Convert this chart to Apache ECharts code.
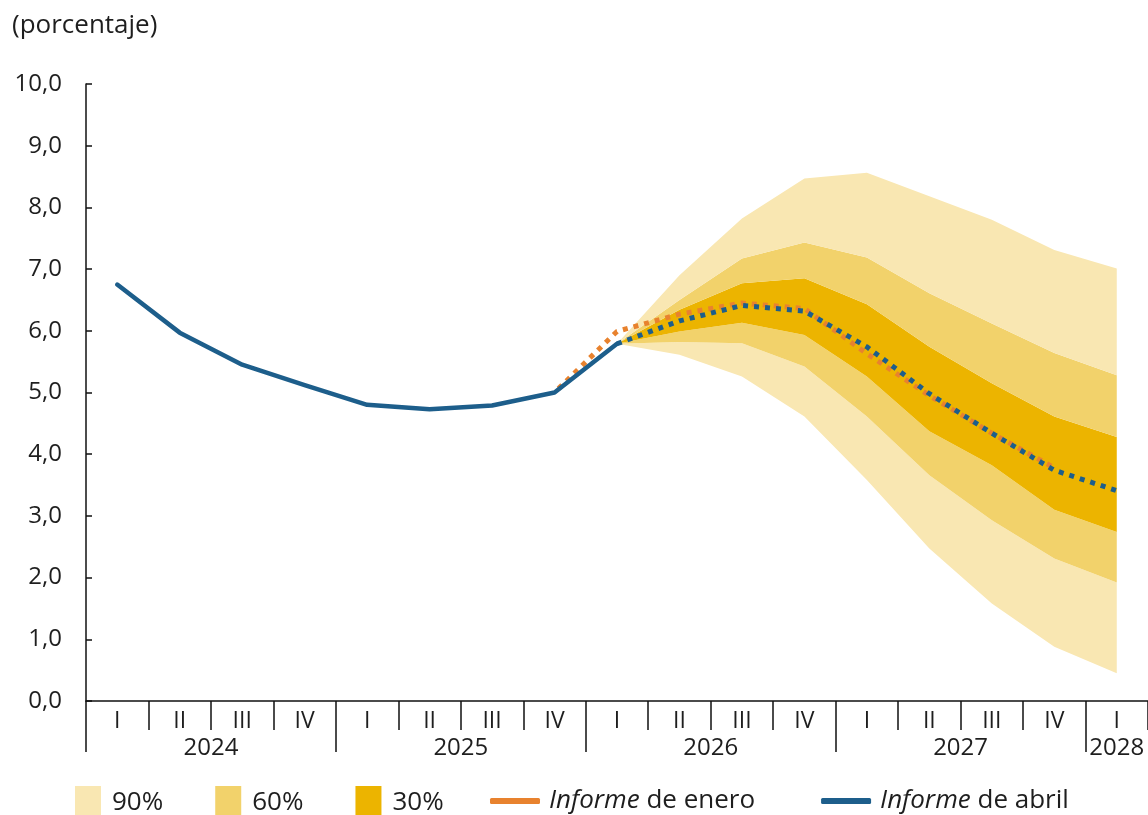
<!DOCTYPE html>
<html><head><meta charset="utf-8">
<script src="https://cdn.jsdelivr.net/npm/echarts@6/dist/echarts.min.js"></script>
<style>html,body{margin:0;padding:0;background:#fff}#c{width:1148px;height:815px}</style>
</head><body><div id="c"></div>
<script>
const quarters = ['I','II','III','IV','I','II','III','IV','I','II','III','IV','I','II','III','IV','I'];
const years = ['2024','2025','2026','2027','2028'];
const yTicks = [0,1,2,3,4,5,6,7,8,9,10];

// Informe de abril (blue)
const abrilHist = [6.75,5.97,5.45,5.12,4.8,4.73,4.79,5.0,5.79,null,null,null,null,null,null,null,null];
const abrilProj = [null,null,null,null,null,null,null,null,5.79,6.16,6.41,6.32,5.74,4.98,4.34,3.74,3.41];
// Informe de enero (orange)
const enero = [null,null,null,null,null,null,null,5.0,5.99,6.27,6.45,6.36,5.63,4.95,4.34,3.78,null];

// Fan bands (from 2026 I)
const up90 = [null,null,null,null,null,null,null,null,5.79,6.9,7.82,8.47,8.56,8.18,7.8,7.31,7.01];
const up60 = [null,null,null,null,null,null,null,null,5.79,6.5,7.17,7.43,7.19,6.61,6.12,5.64,5.28];
const up30 = [null,null,null,null,null,null,null,null,5.79,6.34,6.77,6.85,6.43,5.74,5.15,4.61,4.28];
const lo30 = [null,null,null,null,null,null,null,null,5.79,5.99,6.13,5.93,5.26,4.37,3.82,3.1,2.74];
const lo60 = [null,null,null,null,null,null,null,null,5.79,5.82,5.8,5.42,4.61,3.66,2.93,2.31,1.92];
const lo90 = [null,null,null,null,null,null,null,null,5.79,5.61,5.26,4.61,3.58,2.47,1.58,0.88,0.45];

const C90 = '#F9E7B2', C60 = '#F2D26B', C30 = '#ECB400';
const BLUE = '#1D5E8B', ORANGE = '#E8822E';
const FONT = 'Open Sans';
const TXT = '#1e1e1e';

const diff = (a, b) => a.map((v, i) => (v == null || b[i] == null) ? null : +(v - b[i]).toFixed(3));

// year blocks derived from quarters
const starts = []; quarters.forEach((q, i) => { if (q === 'I') starts.push(i); });
const ends = starts.slice(1).concat([quarters.length]);
const yearCenters = starts.map((s, k) => (s + ends[k]) / 2);
const yearBounds = starts.slice();

function band(name, data, color) {
  return { name, type: 'line', stack: 'fan', data, symbol: 'none', silent: true,
    lineStyle: { width: 0 }, itemStyle: { color }, areaStyle: { color, opacity: 1 }, z: 1 };
}

const chart = echarts.init(document.getElementById('c'), null, { renderer: 'canvas' });
chart.setOption({
  animation: false,
  textStyle: { fontFamily: FONT },
  title: { text: '(porcentaje)', left: 7, top: 8,
    textStyle: { fontFamily: FONT, fontSize: 26, fontWeight: 'normal', color: TXT } },
  grid: { left: 86, right: 0, top: 84, bottom: 114, containLabel: false },
  xAxis: [
    { type: 'category', data: quarters, boundaryGap: true, gridIndex: 0,
      axisLine: { lineStyle: { color: '#111', width: 1.5 } },
      axisTick: { show: true, interval: 0, length: 29, lineStyle: { color: '#111', width: 1.5 } },
      axisLabel: { interval: 0, margin: 9, fontFamily: FONT, fontSize: 23, color: TXT },
      splitLine: { show: false } },
    { type: 'value', min: 0, max: quarters.length, gridIndex: 0, position: 'bottom',
      axisLine: { show: false },
      axisTick: { show: true, customValues: yearBounds, length: 51, lineStyle: { color: '#111', width: 1.5 } },
      axisLabel: { show: true, customValues: yearCenters, margin: 35, fontFamily: FONT, fontSize: 24, color: TXT,
        formatter: v => { const k = yearCenters.indexOf(v); return k >= 0 ? years[k] : ''; } },
      splitLine: { show: false } }
  ],
  yAxis: { type: 'value', min: yTicks[0], max: yTicks[yTicks.length - 1], interval: 1,
    axisLine: { show: true, lineStyle: { color: '#111', width: 1.5 } },
    axisTick: { show: true, inside: true, length: 6, lineStyle: { color: '#111', width: 1.5 } },
    axisLabel: { margin: 24, fontFamily: FONT, fontSize: 24, color: TXT,
      formatter: v => v.toFixed(1).replace('.', ',') },
    splitLine: { show: false } },
  legend: [
    { left: 70, top: 781, itemWidth: 26, itemHeight: 34, itemGap: 52, icon: 'rect',
      data: [ { name: '90%', itemStyle: { color: C90 } }, { name: '60%', itemStyle: { color: C60 } }, { name: '30%', itemStyle: { color: C30 } } ],
      textStyle: { fontFamily: FONT, fontSize: 26, color: TXT, padding: [0, 0, 0, 6] }, selectedMode: false },
    { left: 485, top: 783, itemWidth: 50, itemHeight: 6, itemGap: 66, icon: 'roundRect',
      data: [ { name: 'Informe de enero', itemStyle: { color: ORANGE } }, { name: 'Informe de abril', itemStyle: { color: BLUE } } ],
      formatter: n => '{i|Informe}' + n.replace('Informe', ''),
      textStyle: { fontFamily: FONT, fontSize: 26, color: TXT, padding: [0, 0, 0, 4],
        rich: { i: { fontFamily: FONT, fontSize: 26, fontStyle: 'italic', color: TXT } } },
      selectedMode: false }
  ],
  series: [
    band('base', lo90, 'rgba(0,0,0,0)'),
    band('90%', diff(lo60, lo90), C90),
    band('60%', diff(lo30, lo60), C60),
    band('30%', diff(up30, lo30), C30),
    band('60%', diff(up60, up30), C60),
    band('90%', diff(up90, up60), C90),
    { name: 'Informe de enero', type: 'line', data: enero, symbol: 'none', silent: true, z: 3,
      lineStyle: { color: ORANGE, width: 5, type: [5, 6], dashOffset: 5.5, cap: 'butt' } },
    { name: 'Informe de abril', type: 'line', data: abrilHist, symbol: 'none', silent: true, z: 4,
      lineStyle: { color: BLUE, width: 4.5, cap: 'round', join: 'round' } },
    { name: 'Informe de abril', type: 'line', data: abrilProj, symbol: 'none', silent: true, z: 4,
      lineStyle: { color: BLUE, width: 5, type: [5, 6], cap: 'butt' } }
  ]
});
</script></body></html>
